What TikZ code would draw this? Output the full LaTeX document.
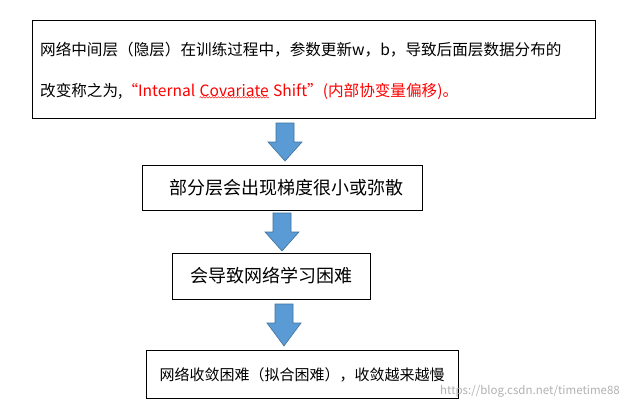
\documentclass[tikz,border=0pt]{standalone}
\usepackage{fontspec}
\setmainfont{Noto Sans CJK SC}
\usetikzlibrary{decorations.pathmorphing}
\definecolor{arrfill}{HTML}{5B9BD5}
\definecolor{arrline}{HTML}{41719C}
\begin{document}
\begin{tikzpicture}[x=1pt,y=-1pt,
  boxst/.style={draw=black,line width=0.8pt,fill=white},
  arrst/.style={fill=arrfill,draw=arrline,line width=0.6pt},
  txt/.style={font=\fontsize{15.6}{17}\selectfont,inner sep=0pt}]
\useasboundingbox (0,0) rectangle (627,413);
\fill[white] (0,0) rectangle (627,413);
% boxes
\draw[boxst] (32,20) rectangle (595,118);
\draw[boxst] (142,165) rectangle (422,210);
\draw[boxst] (172,253) rectangle (370,299);
\draw[boxst] (146,350) rectangle (458,398);
% arrows
\newcommand{\blockarrow}[3]{\draw[arrst] (#1-9,#2) -- (#1+9,#2) -- (#1+9,#2+19) -- (#1+17,#2+19) -- (#1,#3) -- (#1-17,#2+19) -- (#1-9,#2+19) -- cycle;}
\blockarrow{285}{123}{161}
\blockarrow{282}{213}{251}
\blockarrow{284}{304}{346}
% texts
\node[txt,anchor=west] (t1) at (40,50) {网络中间层（隐层）在训练过程中，参数更新w，b，导致后面层数据分布的};
\node[txt,anchor=base west] (t2) at (40,96) {改变称之为,\textcolor{red}{“Internal}};
\node[txt,anchor=base west,text=red] (cov) at ([xshift=4pt]t2.base east) {Covariate};
\node[txt,anchor=base west,text=red] (t2b) at ([xshift=4pt]cov.base east) {Shift”(内部协变量偏移)。};
\draw[red,line width=0.4pt,decorate,decoration={snake,amplitude=0.7pt,segment length=3pt}] ([yshift=-1pt]cov.south west) -- ([yshift=-1pt]cov.south east);
\node[txt,font=\fontsize{18}{20}\selectfont] (t3) at (286,188) {部分层会出现梯度很小或弥散};
\node[txt,font=\fontsize{18}{20}\selectfont] (t4) at (271,276) {会导致网络学习困难};
\node[txt,font=\fontsize{15}{17}\selectfont] (t5) at (302,375) {网络收敛困难（拟合困难），收敛越来越慢};
\node[inner sep=0pt,anchor=east,text=gray!60,font=\fontsize{11.5}{12}\selectfont] (wm) at (620,391) {https://blog.csdn.net/timetime88};
\end{tikzpicture}
\end{document}
